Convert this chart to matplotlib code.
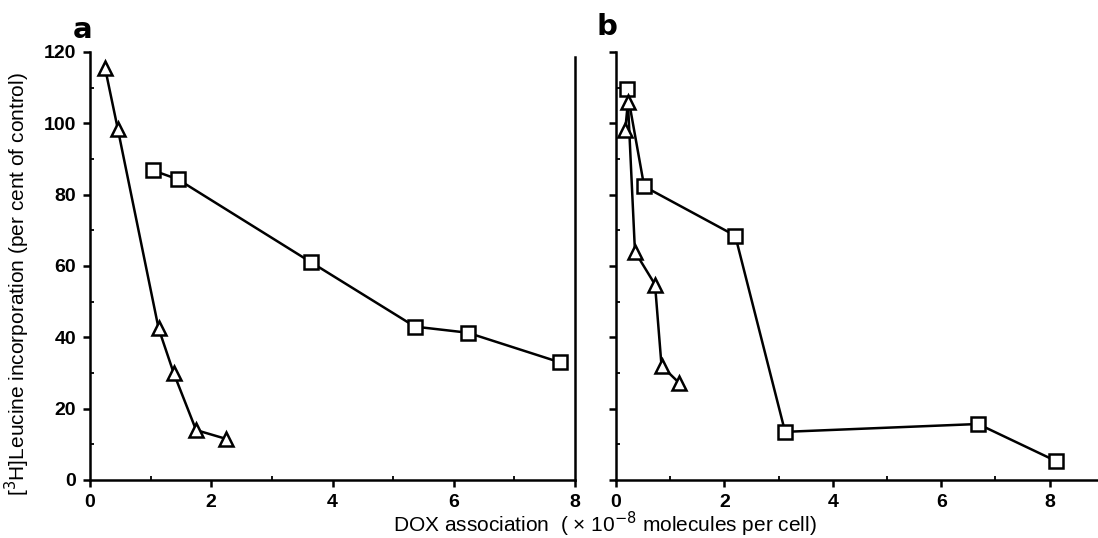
import matplotlib
matplotlib.use("Agg")
import matplotlib.pyplot as plt
from matplotlib.ticker import MultipleLocator, NullFormatter

plt.rcParams['font.family'] = ['Liberation Sans', 'DejaVu Sans']

# Panel a
a_tri_x = [0.25, 0.46, 1.13, 1.38, 1.75, 2.25]
a_tri_y = [115.4, 98.3, 42.6, 30.0, 14.0, 11.5]
a_sq_x = [1.04, 1.45, 3.65, 5.36, 6.23, 7.75]
a_sq_y = [86.8, 84.3, 61.0, 43.0, 41.3, 33.0]

# Panel b
b_tri_x = [0.17, 0.22, 0.35, 0.72, 0.84, 1.16]
b_tri_y = [98.0, 106.0, 64.0, 54.8, 32.0, 27.3]
b_sq_x = [0.20, 0.52, 2.20, 3.12, 6.68, 8.12]
b_sq_y = [109.5, 82.3, 68.5, 13.5, 15.7, 5.3]

x_ticks = [0, 2, 4, 6, 8]
y_ticks = [0, 20, 40, 60, 80, 100, 120]

W, H = 1098, 538
fig = plt.figure(figsize=(W / 100, H / 100), dpi=100)

ax_a = fig.add_axes([90 / W, 1 - 480 / H, 485 / W, 428 / H])
ax_b = fig.add_axes([616 / W, 1 - 480 / H, (W - 616) / W, 428 / H])

line_kw = dict(color='black', lw=1.8, markerfacecolor='white',
               markeredgecolor='black', markeredgewidth=1.8, clip_on=False, zorder=3)

ax_a.plot(a_tri_x, a_tri_y, marker='^', markersize=10.5, **line_kw)
ax_a.plot(a_sq_x, a_sq_y, marker='s', markersize=9.5, **line_kw)
ax_b.plot(b_sq_x, b_sq_y, marker='s', markersize=9.5, **line_kw)
ax_b.plot(b_tri_x, b_tri_y, marker='^', markersize=10.5, **line_kw)

ax_a.set_xlim(0, 8)
ax_a.set_ylim(0, 120)
ax_b.set_xlim(0, (W - 616) / 54.2)
ax_b.set_ylim(0, 120)

for ax in (ax_a, ax_b):
    ax.set_xticks(x_ticks)
    ax.set_yticks(y_ticks)
    ax.xaxis.set_minor_locator(MultipleLocator(1))
    ax.yaxis.set_minor_locator(MultipleLocator(10))
    ax.spines['top'].set_visible(False)
    for s in ax.spines.values():
        s.set_linewidth(1.8)
    ax.tick_params(which='major', direction='out', length=5, width=1.8,
                   labelsize=14)
    ax.tick_params(which='minor', direction='in', length=3, width=1.3)
    for lab in ax.get_xticklabels() + ax.get_yticklabels():
        lab.set_fontweight('bold')
    ax.set_facecolor('none')

ax_a.spines['right'].set_visible(True)
ax_a.spines['right'].set_bounds(0, 118.5)
ax_a.yaxis.set_ticks_position('left')
ax_b.spines['right'].set_visible(False)
ax_b.yaxis.set_major_formatter(NullFormatter())
ax_a.tick_params(axis='y', pad=5)
ax_a.tick_params(axis='x', pad=5)
ax_b.tick_params(axis='x', pad=5)

fig.text(83 / W, 1 - 30 / H, 'a', fontsize=21, fontweight='black',
         ha='center', va='center', family=['DejaVu Sans'])
fig.text(607 / W, 1 - 27 / H, 'b', fontsize=21, fontweight='black',
         ha='center', va='center', family=['DejaVu Sans'])

fig.text(605 / W, 1 - 524 / H,
         'DOX association  ( × 10$^{-8}$ molecules per cell)',
         fontsize=15, ha='center', va='center')
fig.text(17 / W, 1 - 284 / H,
         '[$^{3}$H]Leucine incorporation (per cent of control)',
         fontsize=15, ha='center', va='center', rotation=90)

fig.savefig('out.png', dpi=100)
